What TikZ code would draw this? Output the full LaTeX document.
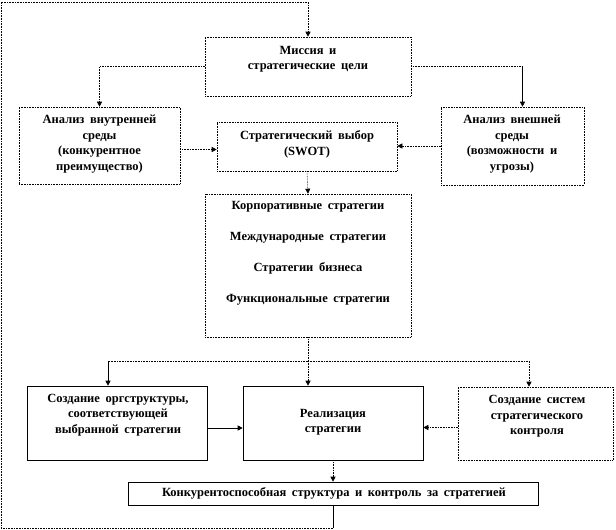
\documentclass[tikz,border=0pt]{standalone}
\usepackage{fontspec}
\setmainfont[WordSpace=1.8]{Liberation Serif}
\usetikzlibrary{arrows.meta,positioning}

\begin{document}
\begin{tikzpicture}[x=1pt, y=-1pt,
    box/.style={draw, line width=0.6pt, inner sep=0pt},
    dbox/.style={box, densely dotted},
    txt/.style={align=center, inner sep=0pt, font=\fontsize{12.5}{15.5}\selectfont\bfseries},
    con/.style={line width=0.6pt},
    dcon/.style={con, densely dotted},
    tip/.style={-{Triangle[length=5pt,width=5pt]}}]
    \useasboundingbox (0,0) rectangle (616,530);

    % boxes
    \node[dbox, minimum width=206pt, minimum height=59pt]  (mis)   at (308,66.5)  {};
    \node[dbox, minimum width=161pt, minimum height=77pt]  (inn)   at (99.5,145.5) {};
    \node[dbox, minimum width=180pt, minimum height=49pt]  (swot)  at (307,146.5) {};
    \node[dbox, minimum width=143pt, minimum height=78pt]  (ext)   at (512.5,146) {};
    \node[dbox, minimum width=206pt, minimum height=143pt] (strat) at (308,265.5) {};
    \node[box,  minimum width=180pt, minimum height=74pt]  (org)   at (117,423)   {};
    \node[box,  minimum width=180pt, minimum height=74pt]  (real)  at (333,423)   {};
    \node[dbox, minimum width=155pt, minimum height=73pt]  (ctrl)  at (535.5,423.5) {};
    \node[box,  minimum width=410pt, minimum height=23pt]  (comp)  at (333,493.5) {};

    % texts
    \node[txt] (mist)   at (308,59)    {Миссия и\\стратегические цели};
    \node[txt] (innt)   at (99.5,144)  {Анализ внутренней\\среды\\(конкурентное\\преимущество)};
    \node[txt] (swott)  at (307,144.5) {Стратегический выбор\\(SWOT)};
    \node[txt] (extt)   at (512,144)   {Анализ внешней\\среды\\(возможности и\\угрозы)};
    \node[txt] (stratt) at (308,253.5) {Корпоративные стратегии\\[15.5pt]Международные стратегии\\[15.5pt]Стратегии бизнеса\\[15.5pt]Функциональные стратегии};
    \node[txt] (orgt)   at (118,415)   {Создание оргструктуры,\\соответствующей\\выбранной стратегии};
    \node[txt] (realt)  at (333,422)   {Реализация\\стратегии};
    \node[txt] (ctrlt)  at (537,416.5) {Создание систем\\стратегического\\контроля};
    \node[txt] (compt)  at (334,493.5) {Конкурентоспособная структура и контроль за стратегией};

    \coordinate (lt)    at (1,2);
    \coordinate (lb)    at (1,528);
    \coordinate (split) at (308,361);
    \coordinate (ein) at ([xshift=10pt]ext.north);
    \coordinate (oin) at ([xshift=-9pt]org.north);
    \coordinate (cin) at ([xshift=-6.5pt]ctrl.north);
    \coordinate (i1)  at ([yshift=-4pt]inn.east);
    \coordinate (o1)  at ([yshift=-5pt]org.east);
    \coordinate (c1)  at ([yshift=-4pt]ctrl.west);

    % upper part
    \draw[dcon,tip] (mis.west) -| (inn.north);
    \draw[dcon] (mis.east) -- (mis.east -| ein);
    \draw[con,tip] (mis.east -| ein) -- (ein);
    \draw[dcon,tip] (i1) -- (i1 -| swot.west);
    \draw[dcon,tip] (ext.west) -- (ext.west -| swot.east);
    \draw[dcon,tip] (swot.south) -- (strat.north);

    % lower part
    \draw[dcon] (strat.south) -- (split);
    \draw[dcon] (split) -- (split -| oin);
    \draw[con,tip] (split -| oin) -- (oin);
    \draw[dcon,tip] (split) -| (cin);
    \draw[dcon,tip] (split) -- (split |- real.north);
    \draw[con,tip] (o1) -- (o1 -| real.west);
    \draw[dcon,tip] (c1) -- (c1 -| real.east);
    \draw[dcon,tip] (real.south) -- (comp.north);

    % feedback loop
    \draw[con] (comp.south) -- (comp.south |- lb);
    \draw[dcon,tip] (comp.south |- lb) -- (lb) -- (lt) -| (mis.north);
\end{tikzpicture}
\end{document}
